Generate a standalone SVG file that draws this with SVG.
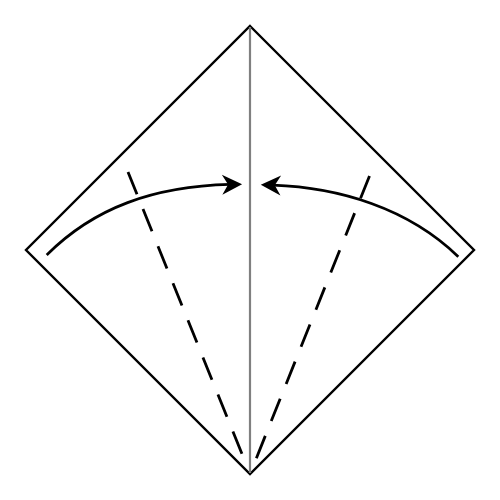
<svg xmlns="http://www.w3.org/2000/svg" width="500" height="500" viewBox="0 0 500 500">
  <defs>
    <style>
      .paper { fill: #ffffff; stroke: #000000; stroke-width: 2.4; stroke-linejoin: miter; }
      .center { stroke: #808080; stroke-width: 2.2; fill: none; }
      .valley { stroke: #000000; stroke-width: 2.8; fill: none; stroke-dasharray: 24 16; }
      .move { stroke: #000000; stroke-width: 2.7; fill: none; marker-end: url(#arrow); }
    </style>
    <marker id="arrow" markerUnits="userSpaceOnUse" viewBox="-21 -11 22 22" markerWidth="22" markerHeight="22" refX="-12" refY="0" orient="auto">
      <path d="M0,0 L-20,-10 L-14,0 L-20,10 Z" fill="#000000"/>
    </marker>
  </defs>
  <rect width="500" height="500" fill="#ffffff"/>
  <g id="paper">
    <polygon class="paper" points="250,26 474,250 250,474 26,250"/>
  </g>
  <g id="creases">
    <line class="center" x1="250" y1="27" x2="250" y2="473"/>
    <line class="valley" x1="128" y1="172" x2="242.3" y2="454.8"/>
    <line class="valley" x1="369.5" y1="176" x2="256" y2="459.1"/>
  </g>
  <g id="arrows">
    <path class="move" d="M46.7,255 C94.25,207.45 153.8,186.4 230.1,184.45"/>
    <path class="move" d="M458.3,256.7 C408.1,208 338.63,187.43 272.79,185.21"/>
  </g>
</svg>
